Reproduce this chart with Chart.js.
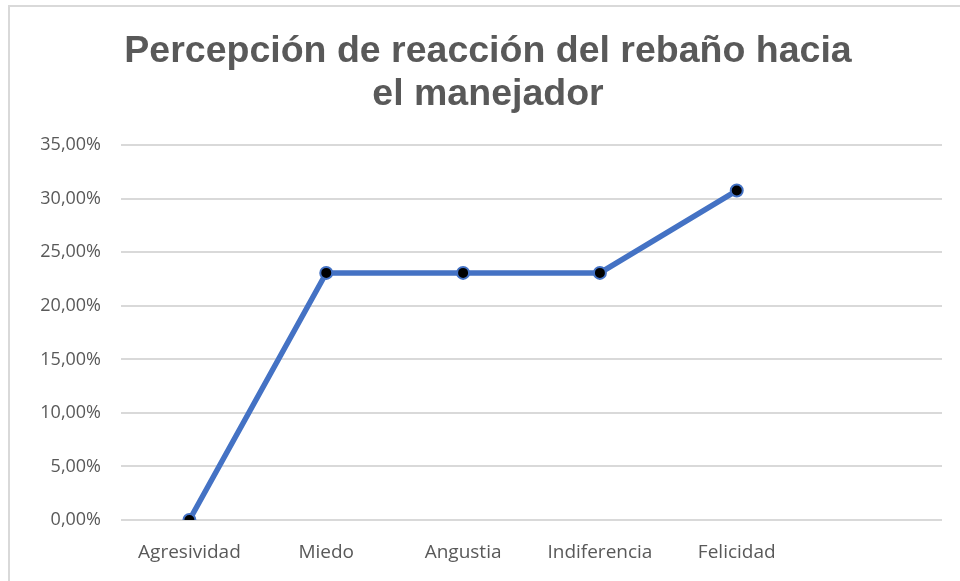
<!DOCTYPE html>
<html>
<head>
<meta charset="utf-8">
<script src="https://cdn.jsdelivr.net/npm/chart.js@4"></script>
<style>
  body { margin: 0; background: #fff; }
  #wrap { position: relative; width: 960px; height: 581px; overflow: hidden; }
  #frame { position: absolute; left: 8px; top: 5px; width: 1000px; height: 700px;
           border-top: 2px solid #d9d9d9; border-left: 2px solid #d9d9d9; }
  #reactionGraph { position: absolute; left: 0; top: 0; }
</style>
</head>
<body>
<div id="wrap">
  <div id="frame"></div>
  <canvas id="reactionGraph" width="960" height="581"></canvas>
</div>
<script>
const reactionX = ["Agresividad", "Miedo", "Angustia", "Indiferencia", "Felicidad", ""];
const shareY = [0, 0.2308, 0.2308, 0.2308, 0.3077, null];
const titleLines = ["Percepción de reacción del rebaño hacia", "el manejador"];

const ctx = document.getElementById("reactionGraph");

new Chart(ctx, {
    type: "line",
    data: {
        labels: reactionX,
        datasets: [{
            data: shareY,
            fill: false,
            lineTension: 0,
            borderColor: "#4472C4",
            borderWidth: 5.5,
            pointRadius: 6,
            pointBackgroundColor: "#000",
            pointBorderColor: "#4472C4",
            pointBorderWidth: 2
        }]
    },
    options: {
        responsive: false,
        animation: false,
        // left pad pushes the title centre over to where the frame centres it
        layout: {padding: {left: 34, right: 18, top: 0, bottom: 0}},
        plugins: {
            legend: {display: false},
            tooltip: {enabled: false},
            title: {
                display: true,
                text: titleLines,
                color: "#595959",
                font: {family: "Liberation Sans", size: 37.5, weight: "bold", lineHeight: 1.15},
                padding: {top: 30, bottom: 29}
            }
        },
        scales: {
            x: {
                offset: true,
                grid: {display: false},
                border: {display: false},
                ticks: {
                    color: "#595959",
                    font: {family: "Open Sans", size: 19},
                    padding: 13,
                    maxRotation: 0,
                    autoSkip: false
                },
                afterFit: (scale) => { scale.height = 61; }
            },
            y: {
                min: 0,
                max: 0.35,
                grid: {color: "#d9d9d9", lineWidth: 2, drawTicks: false},
                border: {display: false},
                ticks: {
                    stepSize: 0.05,
                    color: "#595959",
                    font: {family: "Open Sans", size: 18},
                    padding: 20,
                    callback: (v) => (v * 100).toFixed(2).replace(".", ",") + "%"
                },
                afterFit: (scale) => { scale.width = 87; }
            }
        }
    }
});
</script>
</body>
</html>
